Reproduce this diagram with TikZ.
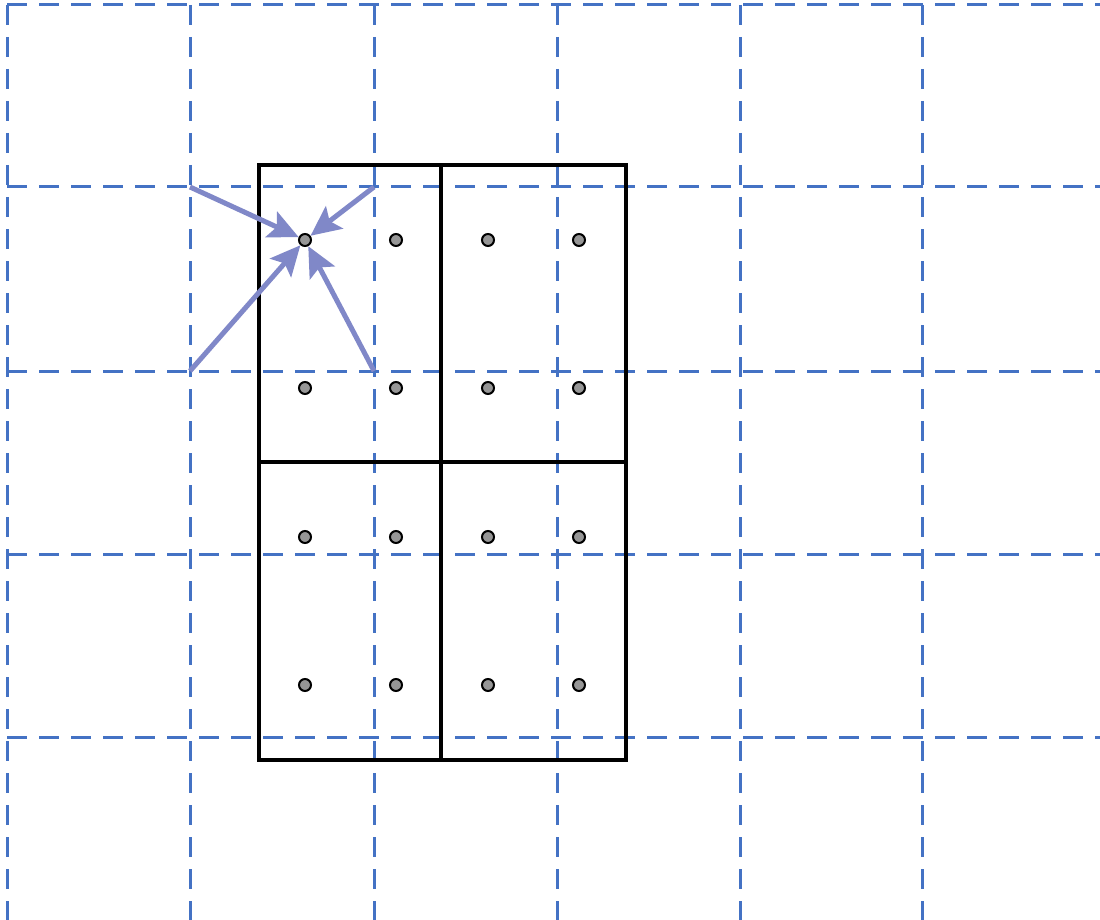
\documentclass[tikz,border=0pt]{standalone}
\usetikzlibrary{arrows.meta}
\definecolor{gridblue}{RGB}{68,114,196}
\definecolor{arrowblue}{RGB}{128,136,200}
\definecolor{dotgray}{RGB}{150,150,150}
\begin{document}
\begin{tikzpicture}[x=1pt,y=-1pt,
  gridline/.style={draw=gridblue,line width=3pt,dash pattern=on 20pt off 12pt},
  cellbox/.style={draw=black,line width=4pt},
  dot/.style={circle,draw=black,fill=dotgray,line width=2pt,minimum size=12pt,inner sep=0pt},
  pull/.style={draw=arrowblue,line width=5pt,-{Stealth[length=30pt,width=28pt,inset=6pt]},shorten >=0pt}]
\useasboundingbox (0,0) rectangle (1100,920);
% grid
\foreach \x in {7,190,374,557,740,922} {\draw[gridline] (\x,5) -- (\x,920);}
\foreach \y in {5,187,371,554,737} {\draw[gridline] (7,\y) -- (1100,\y);}
% grid corners used by arrows
\coordinate (g11) at (190,187);
\coordinate (g12) at (374,187);
\coordinate (g21) at (190,371);
\coordinate (g22) at (374,371);
% cells
\draw[cellbox] (259,165) rectangle (626,760);
\draw[cellbox] (441,165) -- (441,760);
\draw[cellbox] (259,462) -- (626,462);
% dots
\foreach \c/\x in {1/305,2/396,3/488,4/579} {
  \foreach \r/\y in {1/240,2/388,3/537,4/685} {
    \node[dot] (d\r\c) at (\x,\y) {};
  }
}
% arrows
\draw[pull] (g11) -- (d11);
\draw[pull] (g12) -- (d11);
\draw[pull] (g21) -- (d11);
\draw[pull] (g22) -- (d11);
\end{tikzpicture}
\end{document}
